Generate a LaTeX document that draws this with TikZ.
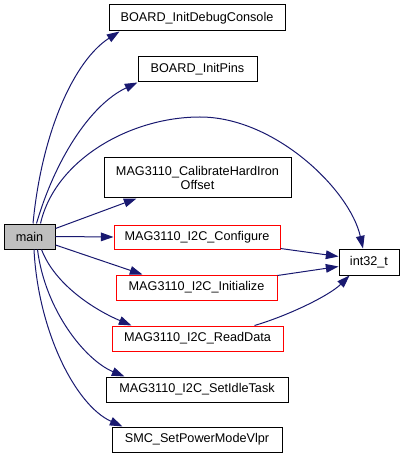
\documentclass[tikz,border=0pt]{standalone}
\usepackage{fontspec}
\setmainfont{Liberation Sans}
\usetikzlibrary{arrows.meta,calc}
\definecolor{edgeblue}{HTML}{191970}
\definecolor{mainfill}{HTML}{BFBFBF}
\begin{document}
\begin{tikzpicture}[x=0.75pt, y=-0.75pt, every node/.style={font=\fontsize{9.5}{11}\selectfont}, fn/.style={draw=black, line width=0.75pt, fill=white, align=center, inner sep=0pt, minimum height=18.75pt}, reffn/.style={fn, draw=red}, call/.style={-{Triangle[length=9.5pt, width=6.5pt]}, draw=edgeblue, fill=none, line width=0.75pt}]
\useasboundingbox (0,0) rectangle (405,459);
\node[fn, fill=mainfill, minimum width=38.25pt] (main) at (29.5,236.5) {main};
\node[fn, minimum width=132pt, minimum height=19.5pt] (debug) at (197,18) {BOARD\_InitDebugConsole};
\node[fn, minimum width=89.25pt] (pins) at (197.5,69.5) {BOARD\_InitPins};
\node[fn, minimum width=140.25pt, minimum height=30pt] (calib) at (197.5,178) {MAG3110\_CalibrateHardIron\\Offset};
\node[reffn, minimum width=124.5pt, minimum height=18pt] (config) at (197,237) {MAG3110\_I2C\_Configure};
\node[fn, minimum width=45pt, minimum height=19.5pt] (int) at (369,262) {int32\_t};
\node[reffn, minimum width=120.75pt] (init) at (196.5,287.5) {MAG3110\_I2C\_Initialize};
\node[reffn, minimum width=128.25pt] (read) at (197.5,338.5) {MAG3110\_I2C\_ReadData};
\node[fn, minimum width=136.5pt] (idle) at (197,389.5) {MAG3110\_I2C\_SetIdleTask};
\node[fn, minimum width=127.5pt] (smc) at (197,439.5) {SMC\_SetPowerModeVlpr};
% calls from main
\draw[call] ($(main.north)+(3.5,0)$) .. controls (42,130) and (75,60) .. ($(debug.south west)+(11,0)$);
\draw[call] ($(main.north)+(7,0)$) .. controls (55,160) and (90,105) .. ($(pins.south west)+(0,0)$);
\draw[call] ($(main.north)+(11,0)$) .. controls (55,160) and (130,117) .. (200,117) .. controls (275,117) and (350,190) .. ($(int.north)+(-6,0)$);
\draw[call] ($(main.east)+(0,-8)$) -- ($(calib.south west)+(33,0)$);
\draw[call] (main.east) -- (config.west);
\draw[call] ($(main.east)+(0,8.5)$) -- ($(init.north west)+(27,0)$);
\draw[call] ($(main.south)+(12,0)$) .. controls (55,285) and (95,310) .. ($(read.north west)+(20,0)$);
\draw[call] ($(main.south)+(8,0)$) .. controls (45,310) and (85,360) .. ($(idle.north west)+(19,0)$);
\draw[call] ($(main.south)+(4.5,0)$) .. controls (38,330) and (75,405) .. ($(smc.north west)+(11,0)$);
% calls to int32_t
\draw[call] ($(config.south east)+(0,-1)$) -- ($(int.north west)+(0,8)$);
\draw[call] ($(init.north east)+(0,1)$) -- ($(int.north west)+(0,18)$);
\draw[call] ($(read.north west)+(143,0)$) .. controls (290,315) and (330,295) .. ($(int.south west)+(11,0)$);
\end{tikzpicture}
\end{document}
